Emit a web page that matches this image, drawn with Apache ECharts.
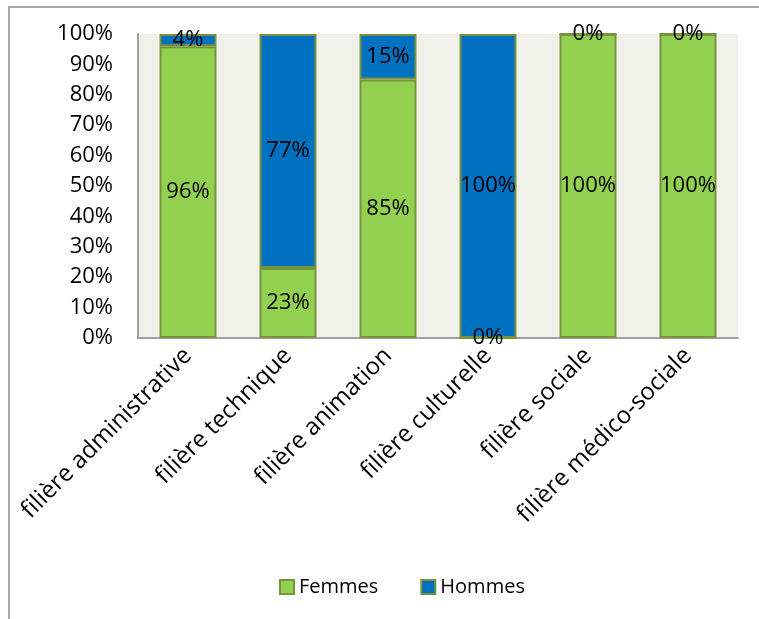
<!DOCTYPE html>
<html><head><meta charset="utf-8">
<script src="https://cdn.jsdelivr.net/npm/echarts@6/dist/echarts.min.js"></script>
<style>html,body{margin:0;padding:0;background:#fff}#c{width:759px;height:619px}
#frame{position:absolute;left:8px;top:6px;width:800px;height:700px;border:2px solid #a6a6a6;box-sizing:border-box;pointer-events:none}</style>
</head><body><div id="c"></div><div id="frame"></div>
<script>
const categories = ['filière administrative','filière technique','filière animation','filière culturelle','filière sociale','filière médico-sociale'];
const femmes = [96, 23, 85, 0, 100, 100];
const hommes = [4, 77, 15, 100, 0, 0];
const yTicks = [0,10,20,30,40,50,60,70,80,90,100];

const font = 'Open Sans';
const chart = echarts.init(document.getElementById('c'), null, {renderer:'canvas'});
const lbl = {show:true, position:'inside', color:'#000', fontFamily:font, fontSize:22, formatter: p => p.value + '%'};
chart.setOption({
  animation:false,
  textStyle:{fontFamily:font},
  grid:{left:138, right:21, top:34, bottom:281, show:true, backgroundColor:'#F0F2EA', borderWidth:0, containLabel:false},
  legend:{bottom:17, left:274, itemWidth:14, itemHeight:14, itemGap:42,
    textStyle:{fontFamily:font, fontSize:20, color:'#000'},
    data:[{name:'Femmes', icon:'rect'},{name:'Hommes', icon:'rect'}]},
  xAxis:{type:'category', data:categories,
    axisLine:{lineStyle:{color:'#a0a0a0', width:2}}, axisTick:{show:false},
    axisLabel:{rotate:45, interval:0, color:'#000', fontFamily:font, fontSize:24, margin:14}},
  yAxis:{type:'value', min:0, max:100, interval:10,
    axisLine:{show:true, lineStyle:{color:'#a0a0a0', width:2}}, axisTick:{show:false},
    splitLine:{show:false},
    axisLabel:{color:'#000', fontFamily:font, fontSize:22, margin:25, formatter: v => yTicks.includes(v) ? v + '%' : ''}},
  series:[
    {name:'Femmes', type:'bar', stack:'t', data:femmes, barWidth:'57%',
      itemStyle:{color:'#92D050', borderColor:'#77933C', borderWidth:2}, label:lbl},
    {name:'Hommes', type:'bar', stack:'t', data:hommes, barWidth:'57%',
      itemStyle:{color:'#0070C0', borderColor:'#77933C', borderWidth:2}, label:lbl}
  ]
});
</script></body></html>
